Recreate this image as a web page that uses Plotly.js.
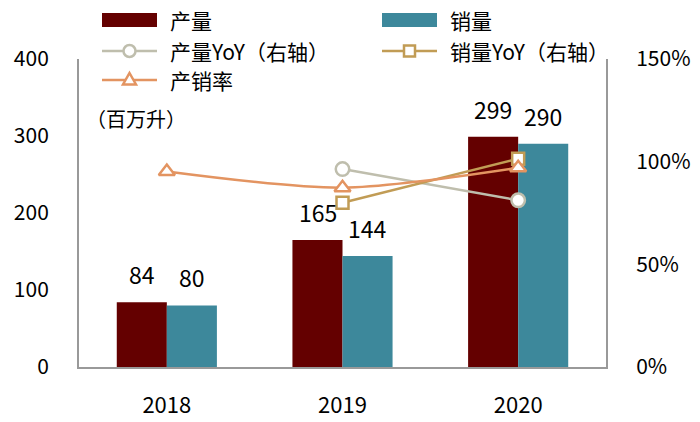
<!DOCTYPE html>
<html>
<head>
<meta charset="utf-8">
<script src="https://cdn.plot.ly/plotly-3.0.1.min.js"></script>
<style>html,body{margin:0;padding:0;background:#fff;}#chart{width:700px;height:422px;}</style>
</head>
<body>
<div id="chart"></div>
<script>
// ---- data ----
const years = ['2018', '2019', '2020'];
const production = [84, 165, 299];          // 产量 (百万升)
const sales = [80, 144, 290];               // 销量 (百万升)
const productionYoY = [null, 0.964, 0.812]; // 产量YoY（右轴）
const salesYoY = [null, 0.80, 1.014];       // 销量YoY（右轴）
const prodSalesRatio = [0.952, 0.873, 0.970]; // 产销率（右轴）
const seriesNames = ['产量', '销量', '产量YoY（右轴）', '销量YoY（右轴）', '产销率'];
const unitLabel = '（百万升）';

// ---- style ----
const FONT = '"Noto Sans CJK SC", "Noto Sans", sans-serif';
const C_PROD = '#640000';
const C_SALES = '#3D889B';
const C_PYOY = '#BFBEAD';
const C_SYOY = '#C19C55';
const C_RATIO = '#E39461';
const AXIS_C = '#999999';

const W = 700, H = 422, ML = 79, MR = 94, MT = 59, MB = 55;
const PW = W - ML - MR, PH = H - MT - MB;
const px = x => (x - ML) / PW;
const py = y => (H - MB - y) / PH;

const traces = [
  {type: 'bar', name: seriesNames[0], x: years, y: production, marker: {color: C_PROD}, hoverinfo: 'none'},
  {type: 'bar', name: seriesNames[1], x: years, y: sales, marker: {color: C_SALES}, hoverinfo: 'none'},
  {type: 'scatter', mode: 'lines+markers', name: seriesNames[2], x: years, y: productionYoY, yaxis: 'y2',
   line: {color: C_PYOY, width: 2.5},
   marker: {symbol: 'circle', size: 13.5, color: '#ffffff', line: {color: C_PYOY, width: 2.5}}},
  {type: 'scatter', mode: 'lines+markers', name: seriesNames[3], x: years, y: salesYoY, yaxis: 'y2',
   line: {color: C_SYOY, width: 2.5},
   marker: {symbol: 'square', size: 12, color: '#ffffff', line: {color: C_SYOY, width: 2.5}}},
  {type: 'scatter', mode: 'lines+markers', name: seriesNames[4], x: years, y: prodSalesRatio, yaxis: 'y2',
   line: {color: C_RATIO, width: 2.5, shape: 'spline', smoothing: 0.8},
   marker: {symbol: 'triangle-up', size: 14, color: '#ffffff', line: {color: C_RATIO, width: 2.5}}}
];

// data labels (x given as category index, as Plotly expects on category axes)
const annotations = [];
years.forEach((yr, i) => {
  annotations.push({x: i, y: production[i], xref: 'x', yref: 'y', text: String(production[i]),
    showarrow: false, xshift: -25, yshift: 28, yanchor: 'middle', font: {family: FONT, size: 23, color: '#000'}});
  annotations.push({x: i, y: sales[i], xref: 'x', yref: 'y', text: String(sales[i]),
    showarrow: false, xshift: 25, yshift: 28, yanchor: 'middle', font: {family: FONT, size: 23, color: '#000'}});
});
annotations.push({x: px(84), y: py(118), xref: 'paper', yref: 'paper', text: unitLabel, showarrow: false,
  xanchor: 'left', yanchor: 'middle', font: {family: FONT, size: 20, color: '#000'}});

// custom legend
const shapes = [];
const legendItems = [
  {name: seriesNames[0], kind: 'bar', color: C_PROD, x: 102, y: 20},
  {name: seriesNames[1], kind: 'bar', color: C_SALES, x: 382, y: 20},
  {name: seriesNames[2], kind: 'circle', color: C_PYOY, x: 102, y: 51},
  {name: seriesNames[3], kind: 'square', color: C_SYOY, x: 382, y: 51},
  {name: seriesNames[4], kind: 'triangle', color: C_RATIO, x: 102, y: 80}
];
legendItems.forEach(it => {
  const x0 = it.x, x1 = it.x + 55, cx = it.x + 27.5, cy = it.y;
  if (it.kind === 'bar') {
    shapes.push({type: 'rect', xref: 'paper', yref: 'paper', x0: px(x0), x1: px(x1), y0: py(cy - 7), y1: py(cy + 7),
      fillcolor: it.color, line: {width: 0}});
  } else {
    shapes.push({type: 'line', xref: 'paper', yref: 'paper', x0: px(x0), x1: px(x1), y0: py(cy), y1: py(cy),
      line: {color: it.color, width: 2.5}});
    const r = 6;
    if (it.kind === 'circle') {
      shapes.push({type: 'circle', xref: 'paper', yref: 'paper', x0: px(cx - r), x1: px(cx + r), y0: py(cy - r), y1: py(cy + r),
        fillcolor: '#fff', line: {color: it.color, width: 2.5}});
    } else if (it.kind === 'square') {
      shapes.push({type: 'rect', xref: 'paper', yref: 'paper', x0: px(cx - 5.5), x1: px(cx + 5.5), y0: py(cy - 5.5), y1: py(cy + 5.5),
        fillcolor: '#fff', line: {color: it.color, width: 2.5}});
    } else {
      const p = `M${px(cx)},${py(cy - 7)} L${px(cx + 6.5)},${py(cy + 4.5)} L${px(cx - 6.5)},${py(cy + 4.5)} Z`;
      shapes.push({type: 'path', xref: 'paper', yref: 'paper', path: p, fillcolor: '#fff', line: {color: it.color, width: 2.5}});
    }
  }
  annotations.push({x: px(it.x + 66), y: py(cy), xref: 'paper', yref: 'paper', text: it.name, showarrow: false,
    xanchor: 'left', yanchor: 'middle', font: {family: FONT, size: 21, color: '#000'}});
});

const layout = {
  width: W, height: H,
  margin: {l: ML, r: MR, t: MT, b: MB, pad: 0},
  paper_bgcolor: '#fff', plot_bgcolor: '#fff',
  font: {family: FONT, size: 21, color: '#000'},
  showlegend: false,
  barmode: 'group', bargap: 0.43, bargroupgap: 0,
  xaxis: {type: 'category', range: [-0.5, 2.5], autorange: false, showline: true, linecolor: AXIS_C, linewidth: 2,
    ticks: '', showgrid: false, zeroline: false, ticklabelstandoff: 18,
    tickfont: {family: FONT, size: 22, color: '#000'}, fixedrange: true},
  yaxis: {range: [0, 400], autorange: false, dtick: 100, showline: true, linecolor: AXIS_C, linewidth: 2, ticks: '',
    showgrid: false, zeroline: false, ticklabelstandoff: 24, tickfont: {family: FONT, size: 21, color: '#000'}, fixedrange: true},
  yaxis2: {range: [0, 1.5], autorange: false, dtick: 0.5, tickformat: '.0%', overlaying: 'y', side: 'right', showline: true,
    linecolor: AXIS_C, linewidth: 2, ticks: '', showgrid: false, zeroline: false, ticklabelstandoff: 24,
    tickfont: {family: FONT, size: 21, color: '#000'}, fixedrange: true},
  annotations: annotations,
  shapes: shapes
};

Plotly.newPlot('chart', traces, layout, {displayModeBar: false, staticPlot: true});
</script>
</body>
</html>
